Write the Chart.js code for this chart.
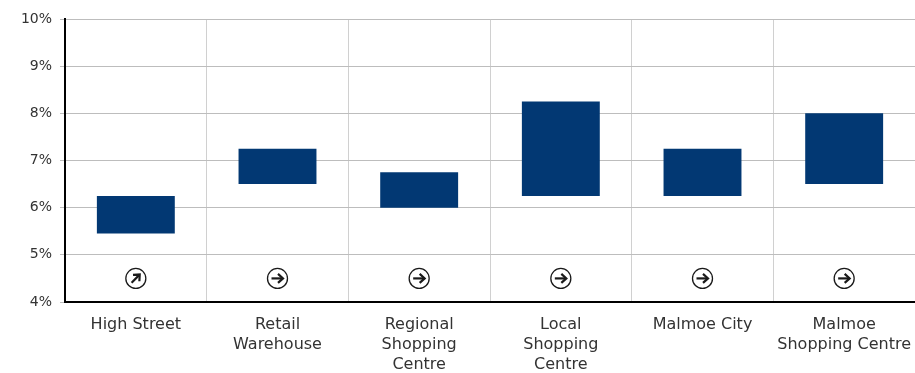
<!DOCTYPE html>
<html>
<head>
<meta charset="utf-8">
<script src="https://cdn.jsdelivr.net/npm/chart.js@4"></script>
<style>
  html, body { margin: 0; padding: 0; background: #fff; }
  #wrap { width: 915px; height: 373px; }
</style>
</head>
<body>
<div id="wrap"><canvas id="yieldChart"></canvas></div>
<script>
// prime yield ranges per segment (low / high, %)
var segments = [
    ['High Street'],
    ['Retail', 'Warehouse'],
    ['Regional', 'Shopping', 'Centre'],
    ['Local', 'Shopping', 'Centre'],
    ['Malmoe City'],
    ['Malmoe', 'Shopping Centre']
];
var yieldLow  = [5.45, 6.5, 6.0, 6.25, 6.25, 6.5];
var yieldHigh = [6.25, 7.25, 6.75, 8.25, 7.25, 8.0];
// outlook arrows: degrees of rotation, 0 = stable, -45 = rising
var outlook = [-45, 0, 0, 0, 0, 0];
var outlookLevel = 4.5;
var yTicks = [4, 5, 6, 7, 8, 9, 10];

var ranges = yieldLow.map(function (lo, i) { return [lo, yieldHigh[i]]; });

// circled arrow under every bar
var outlookArrows = {
    id: 'outlookArrows',
    afterDatasetsDraw: function (chart) {
        var ctx = chart.ctx;
        var x = chart.scales.x, y = chart.scales.y;
        var cy = y.getPixelForValue(outlookLevel);
        outlook.forEach(function (deg, i) {
            var cx = x.getPixelForValue(i);
            ctx.save();
            ctx.translate(cx, cy);
            ctx.strokeStyle = '#1a1a1a';
            ctx.lineWidth = 1.3;
            ctx.beginPath();
            ctx.arc(0, 0, 10, 0, Math.PI * 2);
            ctx.stroke();
            ctx.rotate(deg * Math.PI / 180);
            ctx.lineWidth = 2.2;
            ctx.lineCap = 'butt';
            ctx.beginPath();
            ctx.moveTo(-6, 0);
            ctx.lineTo(5, 0);
            ctx.stroke();
            ctx.lineJoin = 'miter';
            ctx.beginPath();
            ctx.moveTo(0.5, -4.5);
            ctx.lineTo(5.5, 0);
            ctx.lineTo(0.5, 4.5);
            ctx.stroke();
            ctx.restore();
        });
    }
};

var ctx = document.getElementById('yieldChart').getContext('2d');
var yieldChart = new Chart(ctx, {
    type: 'bar',
    data: {
        labels: segments,
        datasets: [{
            label: 'Prime yield',
            data: ranges,
            backgroundColor: '#023873',
            borderSkipped: false,
            barPercentage: 0.55,
            categoryPercentage: 1
        }]
    },
    plugins: [outlookArrows],
    options: {
        responsive: true,
        maintainAspectRatio: false,
        animation: false,
        layout: { padding: { top: 19, right: 0, left: 0, bottom: 0 } },
        plugins: {
            legend: { display: false },
            tooltip: { enabled: false }
        },
        scales: {
            x: {
                grid: {
                    offset: true,
                    color: '#d0d0d0',
                    lineWidth: 1,
                    drawTicks: false
                },
                border: { color: '#000', width: 2 },
                ticks: {
                    color: '#333',
                    padding: 13,
                    maxRotation: 0,
                    font: { family: 'DejaVu Sans', size: 16, lineHeight: 1.25 }
                },
                afterFit: function (axis) {
                    axis.height = 71;
                    axis.paddingLeft = 0;
                    axis.paddingRight = 0;
                }
            },
            y: {
                min: 4,
                max: 10,
                afterBuildTicks: function (axis) {
                    axis.ticks = yTicks.map(function (v) { return { value: v }; });
                },
                grid: {
                    color: '#bdbdbd',
                    lineWidth: 1,
                    tickLength: 5,
                    tickColor: '#bdbdbd'
                },
                border: { color: '#000', width: 2 },
                ticks: {
                    color: '#333',
                    padding: 8,
                    font: { family: 'DejaVu Sans', size: 14 },
                    callback: function (v) { return v + '%'; }
                },
                afterFit: function (axis) {
                    axis.width = 65;
                    axis.paddingTop = 0;
                    axis.paddingBottom = 0;
                }
            }
        }
    }
});
</script>
</body>
</html>
